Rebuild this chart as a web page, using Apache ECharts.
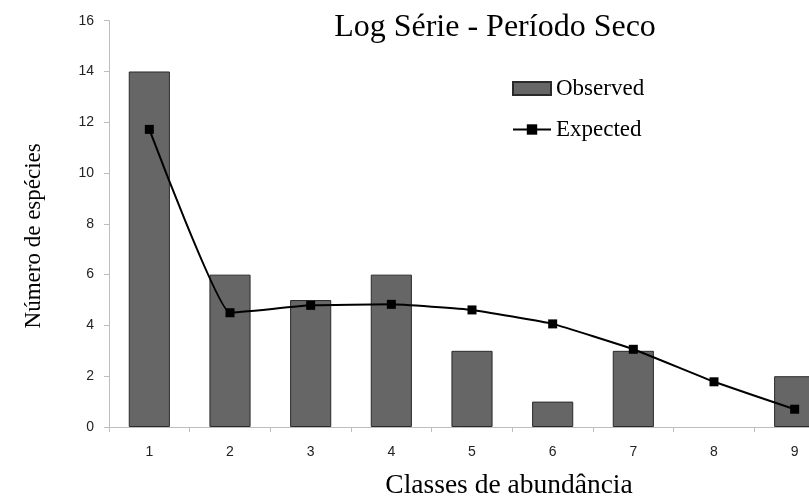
<!DOCTYPE html>
<html>
<head>
<meta charset="utf-8">
<script src="https://cdn.jsdelivr.net/npm/echarts@6/dist/echarts.min.js"></script>
<style>html,body{margin:0;padding:0;background:#fff}#c{width:809px;height:499px}</style>
</head>
<body>
<div id="c"></div>
<script>
var categories = ['1','2','3','4','5','6','7','8','9'];
var observed = [14, 6, 5, 6, 3, 1, 3, 0, 2];
var expected = [11.72, 4.5, 4.79, 4.83, 4.61, 4.06, 3.06, 1.78, 0.7];
var yMin = 0, yMax = 16, yStep = 2;

var chart = echarts.init(document.getElementById('c'));
chart.setOption({
  animation: false,
  backgroundColor: '#ffffff',
  title: {
    text: 'Log Série - Período Seco',
    left: 490, top: 7, textAlign: 'center',
    textStyle: {fontFamily: 'Liberation Serif', fontSize: 32, fontWeight: 'normal', color: '#000'}
  },
  legend: {
    orient: 'vertical', left: 507, top: 72, itemGap: 18,
    itemWidth: 38, itemHeight: 13,
    textStyle: {fontFamily: 'Liberation Serif', fontSize: 23, color: '#000'},
    data: [{name: 'Observed', icon: 'rect'}, {name: 'Expected'}]
  },
  grid: {left: 109, right: -26, top: 20.7, bottom: 72, containLabel: false, outerBoundsMode: 'none'},
  xAxis: {
    type: 'category', data: categories,
    name: 'Classes de abundância', nameLocation: 'middle', nameGap: 45,
    nameTextStyle: {fontFamily: 'Liberation Serif', fontSize: 27.5, color: '#000', padding: [0,0,0,74]},
    axisLine: {lineStyle: {color: '#bdbdbd', width: 1}},
    axisTick: {show: true, length: 5, lineStyle: {color: '#bdbdbd'}},
    axisLabel: {margin: 18, fontFamily: 'Liberation Sans', fontSize: 14, color: '#222'}
  },
  yAxis: {
    type: 'value', min: yMin, max: yMax, interval: yStep,
    name: 'Número de espécies', nameLocation: 'middle', nameGap: 64, nameRotate: 90,
    nameTextStyle: {fontFamily: 'Liberation Serif', fontSize: 23, color: '#000', padding: [0,24,0,0]},
    axisLine: {show: true, lineStyle: {color: '#bdbdbd', width: 1}},
    axisTick: {show: true, length: 5, lineStyle: {color: '#bdbdbd'}},
    splitLine: {show: false},
    axisLabel: {margin: 15, fontFamily: 'Liberation Sans', fontSize: 14, color: '#222'}
  },
  series: [
    {
      name: 'Observed', type: 'bar',
      data: observed.map(function (v) { return v === 0 ? null : v; }),
      barWidth: '51%',
      itemStyle: {color: '#666666', borderColor: '#2a2a2a', borderWidth: 1}
    },
    {
      name: 'Expected', type: 'line', data: expected, smooth: 0.1,
      symbol: 'rect', symbolSize: 9,
      lineStyle: {color: '#000', width: 2},
      itemStyle: {color: '#000'}
    }
  ]
});
</script>
</body>
</html>
